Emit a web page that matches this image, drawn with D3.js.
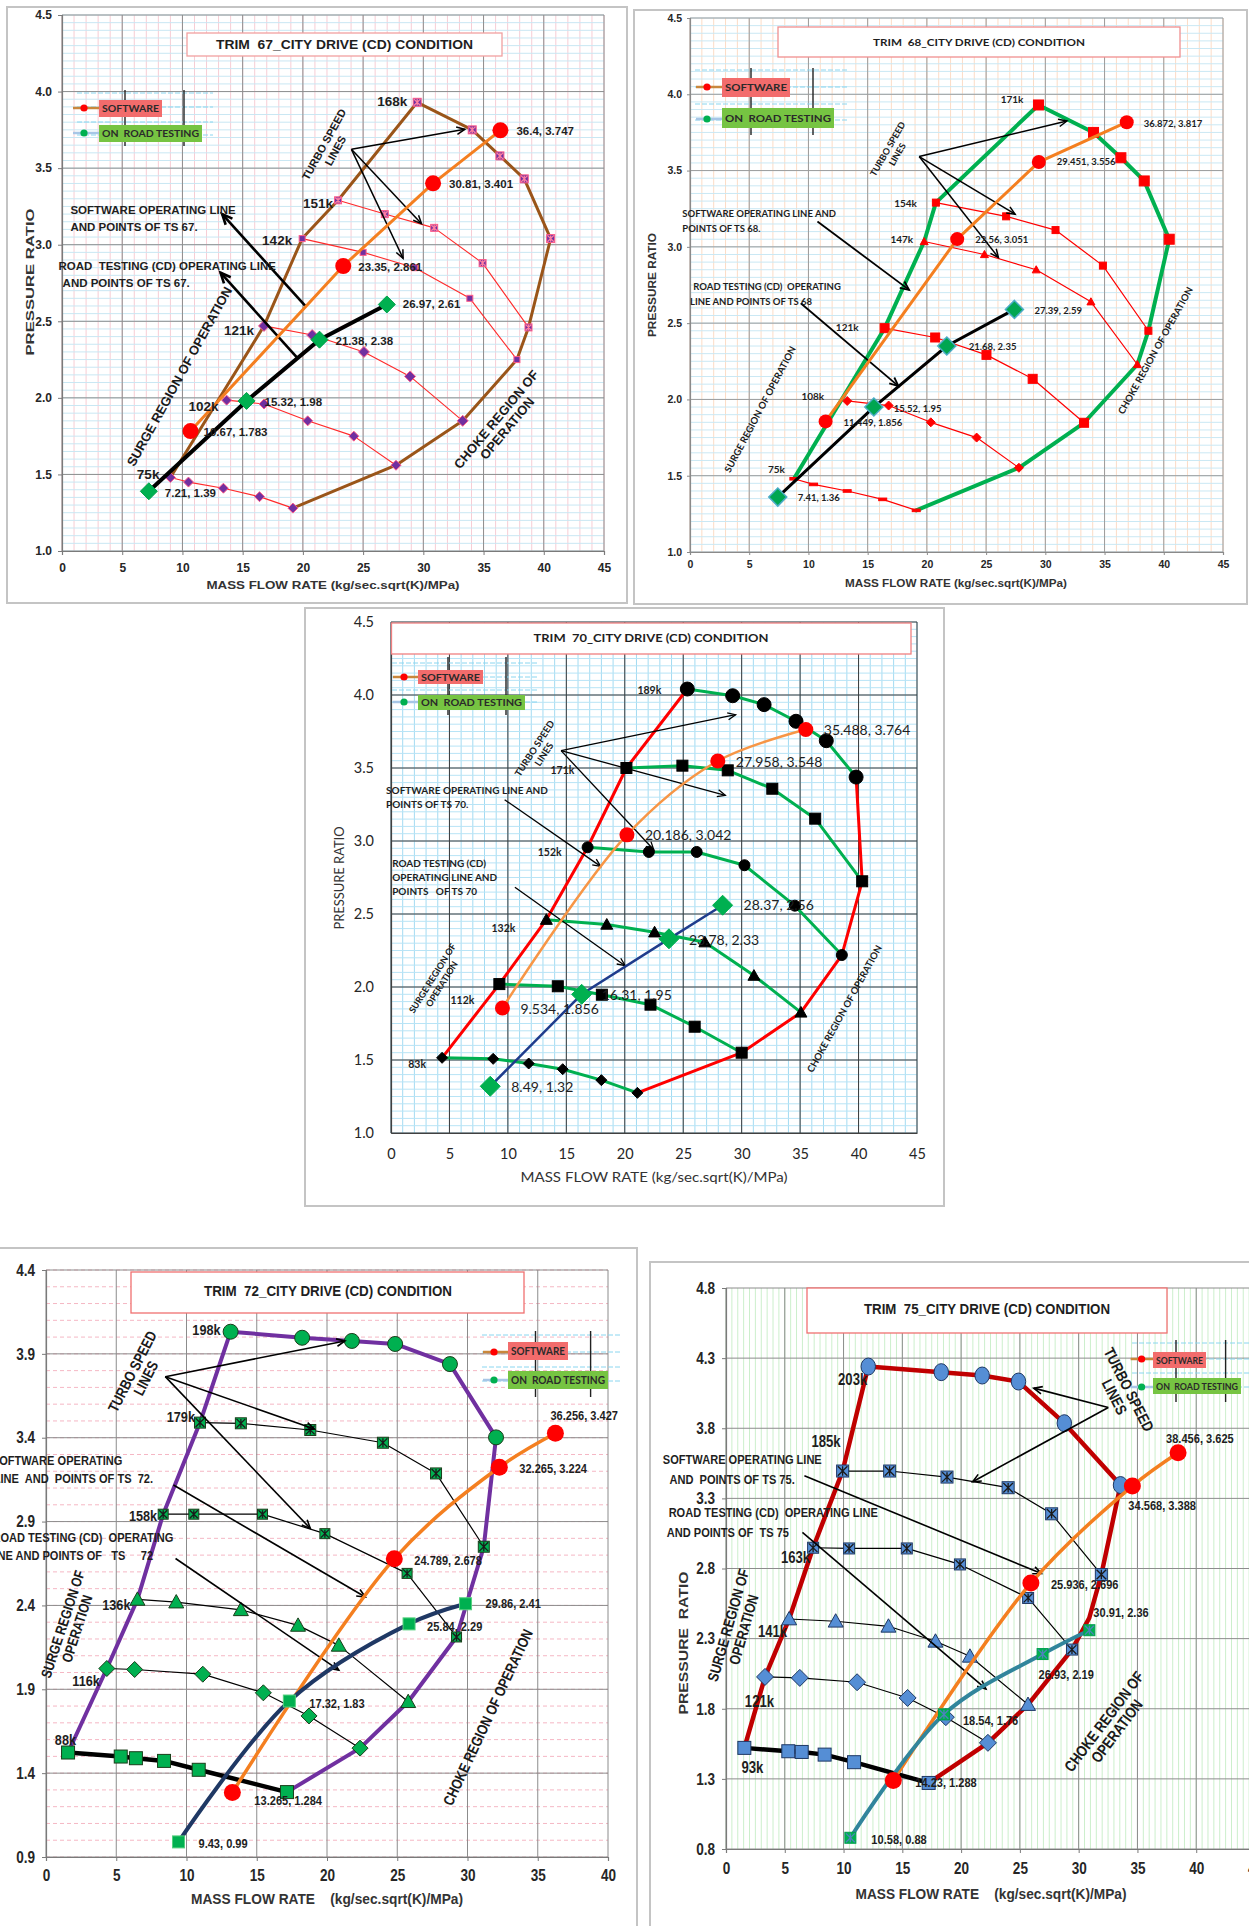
<!DOCTYPE html>
<html>
<head>
<meta charset="utf-8">
<script src="https://cdn.jsdelivr.net/npm/d3@7"></script>
<style>
  body { margin: 0; background: #fff; }
  text { white-space: pre; }
</style>
</head>
<body>
<div id="chart"></div>
<script>
// ---------- values ----------
const xTicks45 = [0, 5, 10, 15, 20, 25, 30, 35, 40, 45];
const xTicks40 = [0, 5, 10, 15, 20, 25, 30, 35, 40];
const yTicks10 = [1.0, 1.5, 2.0, 2.5, 3.0, 3.5, 4.0, 4.5];
const yTicks09 = [0.9, 1.4, 1.9, 2.4, 2.9, 3.4, 3.9, 4.4];
const yTicks08 = [0.8, 1.3, 1.8, 2.3, 2.8, 3.3, 3.8, 4.3, 4.8];
const legendLabels = ["SOFTWARE", "ON  ROAD TESTING"];

// TRIM 67
const t67_names = ["75k", "102k", "121k", "142k", "151k", "168k"];
const t67_n75  = [[9.0, 1.48], [10.5, 1.45], [13.4, 1.41], [16.4, 1.355], [19.17, 1.28]];
const t67_n102 = [[13.67, 1.985], [16.77, 1.96], [20.4, 1.85], [24.23, 1.75], [27.73, 1.56]];
const t67_n121 = [[16.77, 2.47], [20.77, 2.41], [25.07, 2.3], [28.9, 2.14], [33.27, 1.85]];
const t67_n142 = [[19.94, 3.04], [25.0, 2.95], [29.29, 2.85], [33.86, 2.65], [37.77, 2.25]];
const t67_n151 = [[22.92, 3.29], [26.8, 3.2], [30.9, 3.11], [34.92, 2.88], [38.73, 2.46]];
const t67_n168 = [[29.49, 3.93], [34.06, 3.75], [36.36, 3.58], [38.38, 3.43], [40.57, 3.04]];
const t67_surge = [[9.0, 1.48], [16.77, 2.47], [19.94, 3.04], [22.92, 3.29], [29.49, 3.93]];
const t67_choke = [[19.17, 1.28], [27.73, 1.56], [33.27, 1.85], [37.77, 2.25], [38.73, 2.46], [40.57, 3.04]];
const t67_soft = [[10.67, 1.783], [23.35, 2.861], [30.81, 3.401], [36.4, 3.747]];
const t67_road = [[7.21, 1.39], [15.32, 1.98], [21.38, 2.38], [26.97, 2.61]];

// TRIM 68
const t68_names = ["75k", "108k", "121k", "147k", "154k", "171k"];
const t68_n75  = [[8.77, 1.48], [10.43, 1.443], [13.27, 1.4], [16.27, 1.345], [19.1, 1.273]];
const t68_n108 = [[13.27, 1.99], [16.77, 1.96], [20.33, 1.85], [24.2, 1.75], [27.77, 1.552]];
const t68_n121 = [[16.43, 2.467], [20.7, 2.406], [25.03, 2.292], [28.93, 2.135], [33.27, 1.847]];
const t68_n147 = [[19.77, 3.035], [24.86, 2.95], [29.23, 2.85], [33.85, 2.64], [37.77, 2.229]];
const t68_n154 = [[20.76, 3.29], [26.69, 3.2], [30.86, 3.11], [34.86, 2.877], [38.7, 2.45]];
const t68_n171 = [[29.42, 3.93], [34.07, 3.75], [36.38, 3.584], [38.35, 3.432], [40.46, 3.05]];
const t68_surge = [[8.77, 1.48], [16.43, 2.467], [19.77, 3.035], [20.76, 3.29], [29.42, 3.93]];
const t68_choke = [[19.1, 1.273], [27.77, 1.552], [33.27, 1.847], [37.77, 2.229], [38.7, 2.45], [40.46, 3.05]];
const t68_soft = [[11.449, 1.856], [22.56, 3.051], [29.451, 3.556], [36.872, 3.817]];
const t68_road = [[7.41, 1.36], [15.52, 1.95], [21.68, 2.35], [27.39, 2.59]];

// TRIM 70
const t70_names = ["83k", "112k", "132k", "152k", "171k", "189k"];
const t70_n83  = [[4.37, 1.515], [8.74, 1.508], [11.78, 1.476], [14.69, 1.437], [18.0, 1.362], [21.08, 1.275]];
const t70_n112 = [[9.27, 2.02], [14.27, 2.005], [18.04, 1.947], [22.2, 1.879], [25.98, 1.728], [30.0, 1.55]];
const t70_n132 = [[13.29, 2.461], [18.46, 2.428], [22.55, 2.375], [26.85, 2.307], [31.05, 2.078], [35.07, 1.826]];
const t70_n152 = [[16.82, 2.957], [22.06, 2.925], [26.15, 2.925], [30.24, 2.834], [34.55, 2.557], [38.57, 2.219]];
const t70_n171 = [[20.14, 3.5], [24.93, 3.516], [28.81, 3.484], [32.62, 3.358], [36.29, 3.153], [40.31, 2.724]];
const t70_n189 = [[25.35, 4.041], [29.23, 3.995], [31.92, 3.934], [34.65, 3.82], [37.24, 3.687], [39.79, 3.438]];
const t70_surge = [[4.37, 1.515], [9.27, 2.02], [13.29, 2.461], [16.82, 2.957], [20.14, 3.5], [25.35, 4.041]];
const t70_choke = [[21.08, 1.275], [30.0, 1.55], [35.07, 1.826], [38.57, 2.219], [40.31, 2.724], [39.79, 3.438]];
const t70_soft = [[9.534, 1.856], [20.186, 3.042], [27.958, 3.548], [35.488, 3.764]];
const t70_road = [[8.49, 1.32], [16.31, 1.95], [23.78, 2.33], [28.37, 2.56]];

// TRIM 72
const t72_names = ["88k", "116k", "136k", "158k", "179k", "198k"];
const t72_n88  = [[1.57, 1.523], [5.32, 1.499], [6.4, 1.489], [8.4, 1.473], [10.87, 1.42], [17.15, 1.287]];
const t72_n116 = [[4.33, 2.024], [6.31, 2.018], [11.16, 1.99], [15.47, 1.879], [18.72, 1.741], [22.35, 1.549]];
const t72_n136 = [[6.51, 2.436], [9.27, 2.42], [13.87, 2.374], [17.94, 2.281], [20.84, 2.162], [25.78, 1.826]];
const t72_n158 = [[8.34, 2.944], [10.52, 2.944], [15.41, 2.944], [19.85, 2.828], [25.7, 2.591], [29.22, 2.212]];
const t72_n179 = [[10.96, 3.49], [13.87, 3.486], [18.81, 3.446], [23.98, 3.37], [27.76, 3.187], [31.16, 2.75]];
const t72_n198 = [[13.14, 4.032], [18.23, 3.996], [21.77, 3.977], [24.85, 3.959], [28.75, 3.839], [32.03, 3.402]];
const t72_surge = [[1.57, 1.523], [4.33, 2.024], [6.51, 2.436], [8.34, 2.944], [10.96, 3.49], [13.14, 4.032]];
const t72_choke = [[17.15, 1.287], [22.35, 1.549], [25.78, 1.826], [29.22, 2.212], [31.16, 2.75], [32.03, 3.402]];
const t72_soft = [[13.265, 1.284], [24.789, 2.678], [32.265, 3.224], [36.256, 3.427]];
const t72_road = [[9.43, 0.99], [17.32, 1.83], [25.84, 2.29], [29.86, 2.41]];

// TRIM 75
const t75_names = ["93k", "121k", "141k", "163k", "185k", "203k"];
const t75_n93  = [[1.56, 1.521], [5.3, 1.497], [6.44, 1.492], [8.39, 1.473], [10.89, 1.419], [17.24, 1.271]];
const t75_n121 = [[3.32, 2.027], [6.28, 2.02], [11.15, 1.989], [15.45, 1.877], [18.7, 1.74], [22.28, 1.557]];
const t75_n141 = [[5.37, 2.44], [9.33, 2.424], [13.82, 2.388], [17.82, 2.281], [20.75, 2.174], [25.69, 1.83]];
const t75_n163 = [[7.41, 2.948], [10.47, 2.943], [15.38, 2.943], [19.9, 2.829], [25.7, 2.59], [29.43, 2.222]];
const t75_n185 = [[9.92, 3.495], [13.92, 3.495], [18.8, 3.452], [24.0, 3.376], [27.7, 3.19], [31.93, 2.757]];
const t75_n203 = [[12.1, 4.24], [18.31, 4.2], [21.79, 4.176], [24.88, 4.133], [28.78, 3.836], [33.56, 3.395]];
const t75_surge = [[1.56, 1.521], [3.32, 2.027], [5.37, 2.44], [7.41, 2.948], [9.92, 3.495], [12.1, 4.24]];
const t75_choke = [[17.24, 1.271], [22.28, 1.557], [25.69, 1.83], [29.43, 2.222], [30.9, 2.447], [31.93, 2.757], [33.56, 3.395]];
const t75_soft = [[14.23, 1.288], [25.936, 2.696], [34.568, 3.388], [38.456, 3.625]];
const t75_road = [[10.58, 0.88], [18.54, 1.76], [26.93, 2.19], [30.91, 2.36]];

// ---------- fonts ----------
// no Arial Narrow here: the narrow panels use Liberation Sans squeezed horizontally
const ARIAL = "'Liberation Sans', Arial, sans-serif";
const NARROW = ARIAL;
const SQUEEZE = 0.82;
const CALIBRI = "Lato, 'Open Sans', sans-serif";

const svg = d3.select("#chart").append("svg")
  .attr("width", 1249).attr("height", 1926)
  .style("display", "block");
svg.append("rect").attr("width", 1249).attr("height", 1926).attr("fill", "#fff");

function txt(g, s, x, y, o) {
  const t = g.append("text").attr("dy", "0.35em")
    .attr("font-family", o.font).attr("font-size", o.size)
    .attr("font-weight", o.weight || "bold").attr("fill", o.color || "#1e1e1e")
    .attr("text-anchor", o.anchor || "start").text(s);
  if (o.len) t.attr("textLength", o.len).attr("lengthAdjust", "spacingAndGlyphs");
  const sx = o.sx || 1;
  if (o.rot || sx !== 1) {
    t.attr("x", 0).attr("y", 0)
      .attr("transform", `translate(${x},${y}) rotate(${o.rot || 0}) scale(${sx},1)`);
  } else {
    t.attr("x", x).attr("y", y);
  }
  return t;
}

function block(g, lines, cx, cy, rot, o) {
  const t = g.append("text")
    .attr("transform", `translate(${cx},${cy}) rotate(${rot}) scale(${o.sx || 1},1)`)
    .attr("text-anchor", "middle").attr("font-family", o.font).attr("font-size", o.size)
    .attr("font-weight", "bold").attr("fill", "#1a1a1a");
  lines.forEach((s, i) => t.append("tspan").attr("x", 0)
    .attr("y", (i - (lines.length - 1) / 2) * o.lh).attr("dy", "0.35em").text(s));
}

function arrow(g, a, b, w) {
  g.append("line").attr("x1", a[0]).attr("y1", a[1]).attr("x2", b[0]).attr("y2", b[1])
    .attr("stroke", "#000").attr("stroke-width", w);
  const ang = Math.atan2(b[1] - a[1], b[0] - a[0]), L = 6 + w * 2, sp = 0.42;
  const p1 = [b[0] - L * Math.cos(ang - sp), b[1] - L * Math.sin(ang - sp)];
  const p2 = [b[0] - L * Math.cos(ang + sp), b[1] - L * Math.sin(ang + sp)];
  g.append("path").attr("d", `M${p1}L${b}L${p2}`).attr("fill", "none")
    .attr("stroke", "#000").attr("stroke-width", w);
}

function marker(g, type, s, cx, cy, fill, stroke, sw, xcol) {
  const h = s / 2;
  let el;
  if (type === "circle") el = g.append("circle").attr("cx", cx).attr("cy", cy).attr("r", h);
  else if (type === "ellipse") el = g.append("ellipse").attr("cx", cx).attr("cy", cy).attr("rx", h * 0.85).attr("ry", h);
  else if (type === "square" || type === "xsq") el = g.append("rect").attr("x", cx - h).attr("y", cy - h).attr("width", s).attr("height", s);
  else if (type === "diamond") el = g.append("path").attr("d", `M${cx},${cy - h}L${cx + h},${cy}L${cx},${cy + h}L${cx - h},${cy}Z`);
  else if (type === "triangle") el = g.append("path").attr("d", `M${cx},${cy - h}L${cx + h},${cy + h * 0.78}L${cx - h},${cy + h * 0.78}Z`);
  else if (type === "dash") el = g.append("rect").attr("x", cx - h).attr("y", cy - 1.3).attr("width", s).attr("height", 2.6);
  el.attr("fill", fill).attr("stroke", stroke).attr("stroke-width", sw);
  if (type === "xsq") {
    const k = h * 0.8;
    g.append("path").attr("d", `M${cx - k},${cy - k}L${cx + k},${cy + k}M${cx + k},${cy - k}L${cx - k},${cy + k}M${cx},${cy - k}L${cx},${cy + k}`)
      .attr("stroke", xcol || "#1a1a1a").attr("stroke-width", 1.3).attr("fill", "none");
  }
}

function drawPanel(p) {
  const sx = p.sx || 1;
  const g = svg.append("g");
  const [fx0, fy0, fx1, fy1] = p.frame;
  g.append("rect").attr("x", fx0).attr("y", fy0).attr("width", fx1 - fx0).attr("height", fy1 - fy0)
    .attr("fill", "#fff").attr("stroke", "#c4c4c4").attr("stroke-width", 2);

  const [px0, py0, px1, py1] = p.plot;
  const x = d3.scaleLinear().domain(p.xDom).range([px0, px1]);
  const y = d3.scaleLinear().domain(p.yDom).range([py1, py0]);
  const P = d => [x(d[0]), y(d[1])];

  // minor + major grid
  const gg = g.append("g");
  if (p.minorX) d3.range(p.xDom[0], p.xDom[1] + 1e-6, p.minorX.step).forEach(v => {
    gg.append("line").attr("x1", x(v)).attr("x2", x(v)).attr("y1", py0).attr("y2", py1)
      .attr("stroke", p.minorX.color).attr("stroke-width", 1).attr("stroke-dasharray", p.minorX.dash || null);
  });
  if (p.minorY) d3.range(p.yDom[0], p.yDom[1] + 1e-6, p.minorY.step).forEach(v => {
    gg.append("line").attr("x1", px0).attr("x2", px1).attr("y1", y(v)).attr("y2", y(v))
      .attr("stroke", p.minorY.color).attr("stroke-width", 1).attr("stroke-dasharray", p.minorY.dash || null);
  });
  p.xTicks.forEach(v => gg.append("line").attr("x1", x(v)).attr("x2", x(v)).attr("y1", py0).attr("y2", py1)
    .attr("stroke", p.gridColor).attr("stroke-width", 1));
  p.yTicks.forEach(v => gg.append("line").attr("x1", px0).attr("x2", px1).attr("y1", y(v)).attr("y2", y(v))
    .attr("stroke", p.gridColor).attr("stroke-width", 1));

  // axes
  const ax = g.append("g").attr("transform", `translate(0,${py1})`)
    .call(d3.axisBottom(x).tickValues(p.xTicks).tickFormat(d3.format("d")).tickSize(p.tick).tickPadding(p.padX));
  const ay = g.append("g").attr("transform", `translate(${px0},0)`)
    .call(d3.axisLeft(y).tickValues(p.yTicks).tickFormat(d3.format(".1f")).tickSize(p.tick).tickPadding(p.padY));
  [ax, ay].forEach(a => {
    a.select(".domain").attr("stroke", p.axisColor).attr("stroke-width", 1.2);
    a.selectAll(".tick line").attr("stroke", p.axisColor);
    a.selectAll("text").attr("font-family", p.tickFont).attr("font-size", p.tickSize)
      .attr("font-weight", p.tickWeight).attr("fill", "#262626");
    if (sx !== 1) a.selectAll("text").each(function () {
      d3.select(this).attr("textLength", this.getComputedTextLength() * sx).attr("lengthAdjust", "spacingAndGlyphs");
    });
  });

  // title box
  const T = p.title;
  g.append("rect").attr("x", T.box[0]).attr("y", T.box[1]).attr("width", T.box[2] - T.box[0])
    .attr("height", T.box[3] - T.box[1]).attr("fill", "#fff").attr("stroke", T.stroke).attr("stroke-width", 1.3);
  txt(g, T.text, T.x, T.y, { font: T.font, size: T.size, anchor: "middle", len: T.len });

  // axis titles
  if (p.yTitle) txt(g, p.yTitle.text, p.yTitle.x, p.yTitle.y,
    { font: p.yTitle.font, size: p.yTitle.size, weight: p.yTitle.weight, anchor: "middle", rot: -90, len: p.yTitle.len, color: "#333" });
  txt(g, p.xTitle.text, p.xTitle.x, p.xTitle.y,
    { font: p.xTitle.font, size: p.xTitle.size, weight: p.xTitle.weight, anchor: "middle", len: p.xTitle.len, color: "#333" });

  // envelope + speed lines
  const line = d3.line().x(d => x(d[0])).y(d => y(d[1]));
  const lg = g.append("g").attr("fill", "none").attr("stroke-linejoin", "round").attr("stroke-linecap", "round");
  p.speeds.forEach(s => lg.append("path").attr("d", line(s.d))
    .attr("stroke", s.color || p.speedColor).attr("stroke-width", s.w || p.speedW));
  [p.surge, p.choke].forEach(d => lg.append("path").attr("d", line(d))
    .attr("stroke", p.envColor).attr("stroke-width", p.envW));
  p.speeds.forEach(s => s.d.forEach(d => {
    const [cx, cy] = P(d);
    marker(g, s.m, s.s, cx, cy, p.mFill, p.mStroke, p.mSW, p.mX);
  }));

  // annotations
  const ag = g.append("g");
  p.arrows.forEach(a => arrow(ag, P(a[0]), P(a[1]), a[2]));
  p.notes.forEach(n => n.lines.forEach(l => {
    const [lx, ly] = P([l[1], l[2]]);
    txt(ag, l[0], lx, ly, { font: p.noteFont, size: n.size || p.noteSize, anchor: n.anchor || "start", sx });
  }));
  p.blocks.forEach(b => {
    const [cx, cy] = P([b.x, b.y]);
    block(ag, b.lines, cx, cy, b.rot, { font: p.noteFont, size: b.size || p.noteSize, lh: b.lh || 12, sx });
  });

  // software + road operating lines
  const S = p.soft, R = p.road;
  const curveOf = c => c ? d3.curveCatmullRom.alpha(0.5) : d3.curveLinear;
  g.append("path").attr("d", d3.line().x(d => x(d[0])).y(d => y(d[1])).curve(curveOf(S.smooth))(S.d))
    .attr("fill", "none").attr("stroke", S.color).attr("stroke-width", S.w).attr("stroke-linecap", "round");
  g.append("path").attr("d", d3.line().x(d => x(d[0])).y(d => y(d[1])).curve(curveOf(R.smooth))(R.d))
    .attr("fill", "none").attr("stroke", R.color).attr("stroke-width", R.w).attr("stroke-linecap", "round");
  R.d.forEach(d => { const [cx, cy] = P(d); marker(g, R.m, R.s, cx, cy, R.fill, R.stroke, R.sw || 1, R.xcol); });
  S.d.forEach(d => { const [cx, cy] = P(d); g.append("circle").attr("cx", cx).attr("cy", cy).attr("r", S.r).attr("fill", "#ff0000"); });

  // point labels
  [[S, S.lab], [R, R.lab]].forEach(([ser, labs]) => ser.d.forEach((d, i) => {
    const [cx, cy] = P(d);
    txt(g, `${d[0]}, ${d[1]}`, cx + labs[i][0], cy + labs[i][1],
      { font: p.labFont, size: p.labSize, weight: p.labWeight, color: "#1e1e1e", sx });
  }));
  p.speeds.forEach((s, i) => {
    const [cx, cy] = P(s.d[0]);
    txt(g, p.names[i], cx + s.lab[0], cy + s.lab[1], { font: p.spFont, size: p.spSize, anchor: "end", sx });
  });

  // legend
  const L = p.legend;
  const lgd = g.append("g");
  L.cyanY.forEach(yy => lgd.append("line").attr("x1", L.cyanX[0]).attr("x2", L.cyanX[1]).attr("y1", yy).attr("y2", yy)
    .attr("stroke", "#8ad6f0").attr("stroke-width", 1).attr("stroke-dasharray", "5,2"));
  L.ticks.forEach(tx => lgd.append("line").attr("x1", tx).attr("x2", tx).attr("y1", L.tickY[0]).attr("y2", L.tickY[1])
    .attr("stroke", "#222").attr("stroke-width", 1.4));
  [[L.soft, "#f26c6c", "#ff0000", "#c9873c"], [L.road, "#76c442", "#00b050", "#a7c6e6"]].forEach(([it, bg, dot, lc], i) => {
    const [bx0, by0, bx1, by1] = it.box;
    lgd.append("line").attr("x1", it.dot[0] - 11).attr("x2", bx0).attr("y1", it.dot[1]).attr("y2", it.dot[1])
      .attr("stroke", lc).attr("stroke-width", 2.5);
    lgd.append("rect").attr("x", bx0).attr("y", by0).attr("width", bx1 - bx0).attr("height", by1 - by0).attr("fill", bg);
    lgd.append("circle").attr("cx", it.dot[0]).attr("cy", it.dot[1]).attr("r", 3.6).attr("fill", dot);
    txt(lgd, legendLabels[i], bx0 + 3, (by0 + by1) / 2, { font: L.font, size: L.size, len: bx1 - bx0 - 6, color: "#2a2a2a" });
  });
}

// ---------- panel layouts ----------
const panels = [
  { // TRIM 67
    frame: [7, 7, 627, 603], plot: [62, 15, 604, 551], xDom: [0, 45], yDom: [1, 4.5],
    xTicks: xTicks45, yTicks: yTicks10, tick: 4, padX: 8, padY: 6,
    tickFont: ARIAL, tickSize: 12, tickWeight: "bold", axisColor: "#7a7a7a", gridColor: "#8e8e8e",
    minorX: { step: 1, color: "#f7cdd5" }, minorY: { step: 0.05, color: "#c9e7f3" },
    title: { text: "TRIM  67_CITY DRIVE (CD) CONDITION", box: [187, 33, 502, 56], x: 344.5, y: 45, font: ARIAL, size: 12, len: 257, stroke: "#f2a0a0" },
    yTitle: { text: "PRESSURE RATIO", x: 30, y: 282, font: ARIAL, size: 11.5, len: 147 },
    xTitle: { text: "MASS FLOW RATE (kg/sec.sqrt(K)/MPa)", x: 333, y: 585, font: ARIAL, size: 11.5, len: 253 },
    envColor: "#9a5519", envW: 3, surge: t67_surge, choke: t67_choke,
    speedColor: "#ff2a2a", speedW: 1.1, mFill: "#7030a0", mStroke: "#ff5c8a", mSW: 1, mX: "#ff7fa0",
    names: t67_names, spFont: ARIAL, spSize: 13.5,
    speeds: [
      { d: t67_n75, m: "diamond", s: 10, lab: [-11, -3] },
      { d: t67_n102, m: "diamond", s: 10, lab: [-8, 6] },
      { d: t67_n121, m: "diamond", s: 11, lab: [-10, 4] },
      { d: t67_n142, m: "square", s: 6, lab: [-10, 2] },
      { d: t67_n151, m: "xsq", s: 7, lab: [-5, 3] },
      { d: t67_n168, m: "xsq", s: 8, lab: [-10, -1], color: "#9a5519", w: 3 }
    ],
    soft: { d: t67_soft, color: "#f47f20", w: 3, r: 8, lab: [[13, 1], [15, 1], [16, 1], [16, 1]] },
    road: { d: t67_road, color: "#000", w: 4, m: "diamond", s: 17, fill: "#00b050", stroke: "#00a048", lab: [[16, 2], [18, 1], [16, 1], [16, 0]] },
    labFont: ARIAL, labSize: 11.5, labWeight: "bold",
    noteFont: ARIAL, noteSize: 11.5,
    notes: [
      { lines: [["SOFTWARE OPERATING LINE", 0.7, 3.225], ["AND POINTS OF TS 67.", 0.7, 3.116]] },
      { lines: [["ROAD  TESTING (CD) OPERATING LINE", -0.3, 2.861], ["AND POINTS OF TS 67.", 0.05, 2.752]] }
    ],
    blocks: [
      { lines: ["TURBO SPEED", "LINES"], x: 22.23, y: 3.634, rot: -61, lh: 13, size: 11 },
      { lines: ["SURGE REGION OF OPERATION"], x: 9.75, y: 2.14, rot: -61, size: 13 },
      { lines: ["CHOKE REGION OF", "OPERATION"], x: 36.5, y: 1.83, rot: -50, lh: 14, size: 13 }
    ],
    arrows: [
      [[24.03, 3.623], [33.45, 3.754], 1.5], [[24.03, 3.623], [29.85, 3.137], 1.5], [[24.03, 3.623], [28.32, 2.911], 1.5],
      [[20.2, 2.6], [13.3, 3.2], 2.6], [[19.5, 2.265], [13.16, 2.817], 2.6]
    ],
    legend: { soft: { dot: [84, 108], box: [99, 100, 162, 117] }, road: { dot: [84, 133], box: [99, 125, 202, 142] },
      ticks: [125, 184], tickY: [90, 146], cyanY: [93, 107, 122, 135], cyanX: [77, 213], font: CALIBRI, size: 10 }
  },
  { // TRIM 68
    frame: [634, 10, 1247, 604], plot: [690, 18, 1223, 552], xDom: [0, 45], yDom: [1, 4.5],
    xTicks: xTicks45, yTicks: yTicks10, tick: 3, padX: 6, padY: 5,
    tickFont: ARIAL, tickSize: 10.5, tickWeight: "bold", axisColor: "#8a8a8a", gridColor: "#9c9c9c",
    minorX: { step: 1, color: "#fcdcc6" }, minorY: { step: 0.05, color: "#cae8f4" },
    title: { text: "TRIM  68_CITY DRIVE (CD) CONDITION", box: [778, 27, 1180, 57], x: 979, y: 42, font: CALIBRI, size: 10, len: 212, stroke: "#f09090" },
    yTitle: { text: "PRESSURE RATIO", x: 652, y: 285, font: ARIAL, size: 10, len: 104 },
    xTitle: { text: "MASS FLOW RATE (kg/sec.sqrt(K)/MPa)", x: 956, y: 583, font: ARIAL, size: 10, len: 222 },
    envColor: "#00b050", envW: 4, surge: t68_surge, choke: t68_choke,
    speedColor: "#ff0000", speedW: 1.2, mFill: "#ff0000", mStroke: "#ff0000", mSW: 1,
    names: t68_names, spFont: CALIBRI, spSize: 10,
    speeds: [
      { d: t68_n75, m: "dash", s: 8, lab: [-9, -9] },
      { d: t68_n108, m: "diamond", s: 9, lab: [-23, -4] },
      { d: t68_n121, m: "square", s: 9, lab: [-26, -1] },
      { d: t68_n147, m: "triangle", s: 8, lab: [-11, -2] },
      { d: t68_n154, m: "square", s: 7, lab: [-19, 1] },
      { d: t68_n171, m: "square", s: 10, lab: [-15, -5], color: "#00b050", w: 4 }
    ],
    soft: { d: t68_soft, color: "#f47f20", w: 3, r: 7, lab: [[18, 1], [18, 1], [18, 0], [17, 1]] },
    road: { d: t68_road, color: "#000", w: 3, m: "diamond", s: 18, fill: "#00a651", stroke: "#4bacc6", sw: 1.5, lab: [[20, 1], [20, 2], [22, 1], [20, 1]] },
    labFont: CALIBRI, labSize: 9.5, labWeight: "bold",
    noteFont: CALIBRI, noteSize: 9.5,
    notes: [
      { lines: [["SOFTWARE OPERATING LINE AND", -0.65, 3.22], ["POINTS OF TS 68.", -0.65, 3.12]] },
      { lines: [["ROAD TESTING (CD)  OPERATING", 0.28, 2.738], ["LINE AND POINTS OF TS 68", 0.0, 2.64]] }
    ],
    blocks: [
      { lines: ["TURBO SPEED", "LINES"], x: 17.1, y: 3.624, rot: -60, lh: 11, size: 9 },
      { lines: ["SURGE REGION OF OPERATION"], x: 5.93, y: 1.935, rot: -62, size: 9.5 },
      { lines: ["CHOKE REGION OF OPERATION"], x: 39.3, y: 2.32, rot: -61, size: 9.5 }
    ],
    arrows: [
      [[19.35, 3.592], [31.82, 3.825], 1.5], [[19.35, 3.592], [27.45, 3.214], 1.5], [[19.35, 3.592], [26.04, 2.93], 1.5],
      [[10.76, 3.166], [18.5, 2.718], 1.8], [[9.35, 2.63], [17.6, 2.087], 1.8]
    ],
    legend: { soft: { dot: [707, 87], box: [722, 78, 790, 97] }, road: { dot: [707, 119], box: [722, 108, 834, 128] },
      ticks: [751, 813], tickY: [68, 135], cyanY: [70, 87, 104, 120], cyanX: [695, 847], font: CALIBRI, size: 10 }
  },
  { // TRIM 70
    frame: [305, 608, 944, 1206], plot: [391, 622, 917, 1133], xDom: [0, 45], yDom: [1, 4.5],
    xTicks: xTicks45, yTicks: yTicks10, tick: 0, padX: 16, padY: 17,
    tickFont: CALIBRI, tickSize: 14.5, tickWeight: "normal", axisColor: "#404040", gridColor: "#3a3a3a",
    minorX: { step: 1, color: "#a3dbf2" }, minorY: { step: 0.05, color: "#b8e4f6" },
    title: { text: "TRIM  70_CITY DRIVE (CD) CONDITION", box: [391.5, 623, 911, 654], x: 651, y: 638.5, font: CALIBRI, size: 11, len: 235, stroke: "#f08080" },
    yTitle: { text: "PRESSURE RATIO", x: 340, y: 878, font: CALIBRI, size: 12.5, weight: "normal", len: 103 },
    xTitle: { text: "MASS FLOW RATE (kg/sec.sqrt(K)/MPa)", x: 654, y: 1177, font: CALIBRI, size: 13, weight: "normal", len: 267 },
    envColor: "#ff0000", envW: 3, surge: t70_surge, choke: t70_choke,
    speedColor: "#00b050", speedW: 3, mFill: "#000", mStroke: "#000", mSW: 1,
    names: t70_names, spFont: CALIBRI, spSize: 10.5,
    speeds: [
      { d: t70_n83, m: "diamond", s: 11, lab: [-16, 7] },
      { d: t70_n112, m: "square", s: 11, lab: [-25, 16] },
      { d: t70_n132, m: "triangle", s: 12, lab: [-31, 9] },
      { d: t70_n152, m: "circle", s: 11, lab: [-26, 5] },
      { d: t70_n171, m: "square", s: 11, lab: [-52, 2] },
      { d: t70_n189, m: "circle", s: 14, lab: [-26, 1] }
    ],
    soft: { d: t70_soft, color: "#f79646", w: 2.5, r: 7.5, smooth: true, lab: [[18, 1], [18, 0], [18, 1], [18, 1]] },
    road: { d: t70_road, color: "#1f3c8c", w: 2.5, m: "diamond", s: 20, fill: "#00b050", stroke: "#00b050", lab: [[21, 1], [20, 1], [20, 1], [21, 0]] },
    labFont: CALIBRI, labSize: 14, labWeight: "normal",
    noteFont: CALIBRI, noteSize: 10,
    notes: [
      { lines: [["SOFTWARE OPERATING LINE AND", -0.42, 3.345], ["POINTS OF TS 70.", -0.42, 3.249]] },
      { lines: [["ROAD TESTING (CD)", 0.1, 2.849], ["OPERATING LINE AND", 0.1, 2.751], ["POINTS   OF TS 70", 0.1, 2.651]] }
    ],
    blocks: [
      { lines: ["TURBO SPEED", "LINES"], x: 12.69, y: 3.614, rot: -57, lh: 11, size: 9.5 },
      { lines: ["SURGE REGION OF", "OPERATION"], x: 3.95, y: 2.04, rot: -58, lh: 11, size: 9 },
      { lines: ["CHOKE REGION OF OPERATION"], x: 38.8, y: 1.85, rot: -61, size: 9.5 }
    ],
    arrows: [
      [[14.55, 3.619], [29.48, 3.865], 1.3], [[14.55, 3.619], [28.6, 3.313], 1.3], [[14.55, 3.619], [22.48, 2.94], 1.3],
      [[9.72, 3.283], [17.94, 2.826], 1.3], [[10.6, 2.683], [20.03, 2.146], 1.3]
    ],
    legend: { soft: { dot: [404, 677], box: [418, 670, 483, 684] }, road: { dot: [404, 702], box: [418, 695, 525, 710] },
      ticks: [448, 506], tickY: [657, 715], cyanY: [663, 677, 690, 702], cyanX: [392, 538], font: CALIBRI, size: 10 }
  },
  { // TRIM 72
    frame: [-5, 1248, 637, 1940], plot: [46, 1270, 608, 1857], xDom: [0, 40], yDom: [0.9, 4.4], sx: SQUEEZE,
    xTicks: xTicks40, yTicks: yTicks09, tick: 4, padX: 8, padY: 7,
    tickFont: NARROW, tickSize: 16.5, tickWeight: "bold", axisColor: "#7a7a7a", gridColor: "#8c8c8c",
    minorY: { step: 0.1, color: "#f5b7c4", dash: "4,3" },
    title: { text: "TRIM  72_CITY DRIVE (CD) CONDITION", box: [131, 1272, 524, 1313], x: 328, y: 1291, font: NARROW, size: 15, len: 248, stroke: "#f07070" },
    xTitle: { text: "MASS FLOW RATE    (kg/sec.sqrt(K)/MPa)", x: 327, y: 1899, font: NARROW, size: 15, len: 272 },
    envColor: "#7030a0", envW: 4, surge: t72_surge, choke: t72_choke,
    speedColor: "#000", speedW: 1.2, mFill: "#00b050", mStroke: "#1a3d1a", mSW: 1,
    names: t72_names, spFont: NARROW, spSize: 15.5,
    speeds: [
      { d: t72_n88, m: "square", s: 13, lab: [8, -13], w: 4.5 },
      { d: t72_n116, m: "diamond", s: 16, lab: [-7, 12] },
      { d: t72_n136, m: "triangle", s: 15, lab: [-7, 5] },
      { d: t72_n158, m: "xsq", s: 10, lab: [-6, 1] },
      { d: t72_n179, m: "xsq", s: 11, lab: [-5, -6] },
      { d: t72_n198, m: "circle", s: 15, lab: [-10, -2], color: "#7030a0", w: 4 }
    ],
    soft: { d: t72_soft, color: "#f47f20", w: 3.5, r: 8.5, smooth: true, lab: [[22, 8], [20, 1], [20, 1], [-5, -18]] },
    road: { d: t72_road, color: "#1f3864", w: 4, m: "square", s: 12, fill: "#00b050", stroke: "#55d17f", smooth: true, lab: [[20, 1], [20, 2], [18, 2], [20, 0]] },
    labFont: NARROW, labSize: 13.5, labWeight: "bold",
    noteFont: NARROW, noteSize: 13.5,
    notes: [
      { anchor: "end", lines: [["SOFTWARE OPERATING", 5.44, 3.267], ["LINE  AND  POINTS OF TS  72.", 7.62, 3.157]] },
      { anchor: "end", lines: [["ROAD TESTING (CD)  OPERATING", 9.07, 2.804], ["LINE AND POINTS OF   TS     72", 7.62, 2.70]] }
    ],
    blocks: [
      { lines: ["TURBO SPEED", "LINES"], x: 6.62, y: 3.775, rot: -63, lh: 15, size: 15 },
      { lines: ["SURGE REGION OF", "OPERATION"], x: 1.7, y: 2.275, rot: -72, lh: 15, size: 14.5 },
      { lines: ["CHOKE REGION OF OPERATION"], x: 31.45, y: 1.733, rot: -65, size: 15 }
    ],
    arrows: [
      [[8.49, 3.764], [21.28, 3.977], 1.6], [[8.49, 3.764], [19.1, 3.452], 1.6], [[8.49, 3.764], [18.81, 2.859], 1.6],
      [[9.07, 3.118], [22.73, 2.45], 1.6], [[9.22, 2.68], [20.84, 2.014], 1.6]
    ],
    legend: { soft: { dot: [494, 1352], box: [508, 1342, 568, 1360] }, road: { dot: [494, 1380], box: [508, 1371, 608, 1389] },
      ticks: [535.5, 590.6], tickY: [1331, 1397], cyanY: [1335, 1352, 1367, 1381], cyanX: [482, 622], font: CALIBRI, size: 10.5 }
  },
  { // TRIM 75
    frame: [650, 1262, 1262, 1940], plot: [726, 1288, 1255, 1849], xDom: [0, 45], yDom: [0.8, 4.8], sx: SQUEEZE,
    xTicks: xTicks45, yTicks: yTicks08, tick: 4, padX: 9, padY: 7,
    tickFont: NARROW, tickSize: 16.5, tickWeight: "bold", axisColor: "#7a7a7a", gridColor: "#8c8c8c",
    minorX: { step: 0.5, color: "#ccefcc" },
    title: { text: "TRIM  75_CITY DRIVE (CD) CONDITION", box: [807, 1288, 1167, 1333], x: 987, y: 1309, font: NARROW, size: 15, len: 246, stroke: "#f07070" },
    yTitle: { text: "PRESSURE  RATIO", x: 683, y: 1643, font: ARIAL, size: 13, len: 143 },
    xTitle: { text: "MASS FLOW RATE    (kg/sec.sqrt(K)/MPa)", x: 991, y: 1894, font: NARROW, size: 15, len: 271 },
    envColor: "#c00000", envW: 4.5, surge: t75_surge, choke: t75_choke,
    speedColor: "#000", speedW: 1.2, mFill: "#558ed5", mStroke: "#1f3864", mSW: 1,
    names: t75_names, spFont: NARROW, spSize: 16,
    speeds: [
      { d: t75_n93, m: "square", s: 13, lab: [19, 20], w: 4.5 },
      { d: t75_n121, m: "diamond", s: 17, lab: [9, 24] },
      { d: t75_n141, m: "triangle", s: 15, lab: [-2, 12] },
      { d: t75_n163, m: "xsq", s: 11, lab: [-3, 10] },
      { d: t75_n185, m: "xsq", s: 12, lab: [-2, -30] },
      { d: t75_n203, m: "ellipse", s: 17, lab: [-1, 13], color: "#c00000", w: 4.5 }
    ],
    soft: { d: t75_soft, color: "#f47f20", w: 3.5, r: 8.5, smooth: true, lab: [[22, 2], [20, 1], [-4, 19], [-12, -15]] },
    road: { d: t75_road, color: "#31859c", w: 4, m: "xsq", s: 11, fill: "#00b050", stroke: "#00a050", xcol: "#4f81bd", smooth: true, lab: [[21, 1], [19, 6], [-4, 20], [4, -18]] },
    labFont: NARROW, labSize: 13.5, labWeight: "bold",
    noteFont: NARROW, noteSize: 13.5,
    notes: [
      { lines: [["SOFTWARE OPERATING LINE", -5.37, 3.581], [" AND  POINTS OF TS 75.", -5.04, 3.438]] },
      { lines: [["ROAD TESTING (CD)  OPERATING LINE", -4.88, 3.2], ["AND POINTS OF  TS 75", -5.04, 3.057]] }
    ],
    blocks: [
      { lines: ["TURBO SPEED", "LINES"], x: 33.66, y: 4.05, rot: 63, lh: 16, size: 15.5 },
      { lines: ["SURGE REGION OF", "OPERATION"], x: 0.85, y: 2.38, rot: -74, lh: 16, size: 15 },
      { lines: ["CHOKE REGION OF", "OPERATION"], x: 32.7, y: 1.675, rot: -53, lh: 16, size: 15.5 }
    ],
    arrows: [
      [[32.52, 3.948], [26.18, 4.086], 1.6], [[32.52, 3.948], [20.98, 3.419], 1.6],
      [[6.67, 3.462], [26.83, 2.764], 1.6], [[6.5, 3.057], [22.11, 1.941], 1.6]
    ],
    legend: { soft: { dot: [1141.6, 1359], box: [1153, 1352, 1206, 1368] }, road: { dot: [1141.6, 1387], box: [1153, 1378, 1241, 1394] },
      ticks: [1176, 1225.6], tickY: [1340, 1402], cyanY: [1343, 1359, 1373, 1387], cyanX: [1132, 1249], font: CALIBRI, size: 10 }
  }
];

panels.forEach(drawPanel);
</script>
</body>
</html>
